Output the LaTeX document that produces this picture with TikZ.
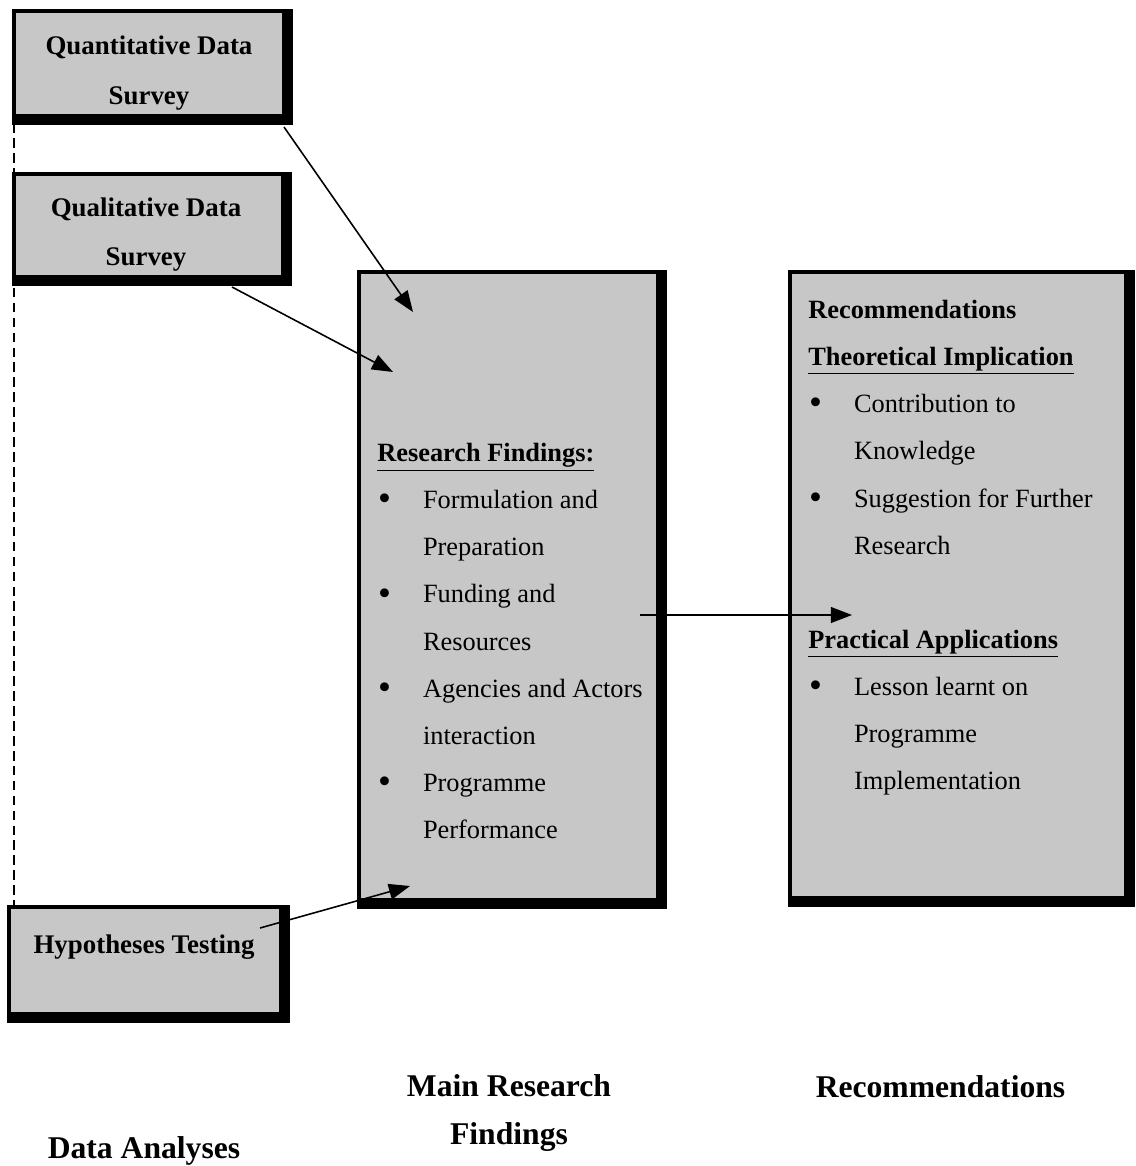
\documentclass[tikz,border=0pt]{standalone}
\usepackage{fontspec}
\setmainfont{Liberation Serif}
\usepackage{xcolor}
\usepackage{tikz}
\usetikzlibrary{positioning, calc, arrows.meta}

\definecolor{panelgray}{RGB}{199,199,199}
\newcommand{\bulitem}{\makebox[26pt][l]{\hspace{0.5pt}\raisebox{-1.2pt}{\fontsize{21}{21}\selectfont\textbullet}}}
\newcommand{\bulgap}{\hspace*{26pt}}

\begin{document}
\begin{tikzpicture}[
    panel/.style={draw, rectangle, fill=panelgray, line width=2.2pt, outer sep=0pt},
    heavyedge/.style={line width=6pt, line join=miter},
    boxtitle/.style={align=center, inner sep=0pt, font=\fontsize{15.3}{28}\selectfont\bfseries},
    boxtext/.style={align=left, inner sep=0pt, anchor=north west, font=\fontsize{15}{26.8}\selectfont},
    caption/.style={align=center, inner sep=0pt, font=\fontsize{18}{27}\selectfont\bfseries},
    arr/.style={line width=0.9pt, -{Triangle[length=12pt,width=9pt]}}
  ]
  \useasboundingbox (0,0) rectangle (22.72,-23.32);

  \node[panel, minimum width=5.40cm, minimum height=2.10cm] (quant) at (2.98,-1.27) {};
  \node[panel, minimum width=5.38cm, minimum height=2.06cm] (qual) at (2.97,-4.51) {};
  \node[panel, minimum width=5.44cm, minimum height=2.14cm] (hypo) at (2.90,-19.21) {};
  \node[panel, minimum width=5.98cm, minimum height=12.56cm] (find) at (10.17,-11.72) {};
  \node[panel, minimum width=6.72cm, minimum height=12.52cm] (reco) at (19.16,-11.70) {};

  \foreach \b in {quant, qual, hypo, find, reco}
    \draw[heavyedge] ([xshift=1.9pt, yshift=1.1pt]\b.north east)
      -- ([xshift=1.9pt, yshift=-1.9pt]\b.south east)
      -- ([xshift=-1.1pt, yshift=-1.9pt]\b.south west);

  \node[boxtitle] (quanttext) at (2.98,-1.46) {Quantitative Data\\Survey};
  \node[boxtitle] (qualtext) at (2.92,-4.69) {Qualitative Data\\Survey};
  \node[boxtitle] (hypotext) at (2.88,-18.95) {Hypotheses Testing};

  \node[boxtext] (findtext) at (7.54,-8.86) {%
    \textbf{\underline{Research Findings:}}\\
    \bulitem Formulation and\\
    \bulgap Preparation\\
    \bulitem Funding and\\
    \bulgap Resources\\
    \bulitem Agencies and Actors\\
    \bulgap interaction\\
    \bulitem Programme\\
    \bulgap Performance};

  \node[boxtext] (recotext) at (16.16,-6.00) {%
    \textbf{Recommendations}\\
    \textbf{\underline{Theoretical Implication}}\\
    \bulitem Contribution to\\
    \bulgap Knowledge\\
    \bulitem Suggestion for Further\\
    \bulgap Research\\
    \mbox{}\\
    \textbf{\underline{Practical Applications}}\\
    \bulitem Lesson learnt on\\
    \bulgap Programme\\
    \bulgap Implementation};

  \coordinate (tipq) at (8.26,-6.24);
  \coordinate (tipl) at (7.86,-7.44);
  \coordinate (tiph) at (8.20,-17.72);
  \coordinate (tipr) at (17.04,-12.30);

  \draw[arr] ($(quant.south east)+(0,-0.22)$) -- (tipq);
  \draw[arr] ($(qual.south)+(1.67,-0.20)$) -- (tipl);
  \draw[arr] ($(hypo.east)+(-0.42,0.65)$) -- (tiph);
  \draw[arr] ($(find.east)+(-0.36,-0.58)$) -- (tipr);

  \draw[line width=0.6pt, dash pattern=on 5.5pt off 3pt]
    ($(quant.south west)+(0,-0.15)$) -- (quant.south west |- hypo.north);

  \node[caption] (capfind) at (10.18,-22.26) {Main Research\\Findings};
  \node[caption] (capreco) at (18.81,-21.73) {Recommendations};
  \node[caption] (capdata) at (2.88,-23.02) {Data Analyses};
\end{tikzpicture}
\end{document}
